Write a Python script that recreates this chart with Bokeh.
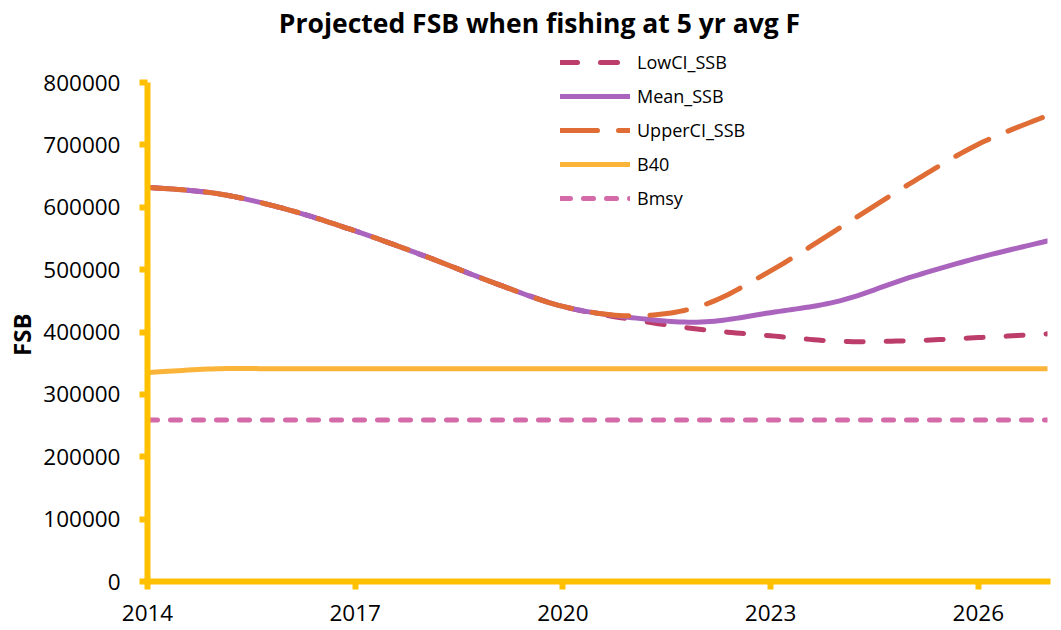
from bokeh.plotting import figure
from bokeh.models import (Range1d, FixedTicker, Legend, LegendItem, Label)
from bokeh.embed import file_html
from bokeh.resources import INLINE

# ---------------- data ----------------
years = [2014, 2015, 2016, 2017, 2018, 2019, 2020,
         2021, 2022, 2023, 2024, 2025, 2026, 2027]
low_ci_ssb = [632000, 622000, 597000, 562000, 522000, 479000, 441000,
              420000, 404000, 394000, 385000, 386000, 391000, 397000]
mean_ssb = [632000, 622000, 597000, 562000, 522000, 479000, 441000,
            423000, 416000, 431000, 450000, 487000, 519000, 546000]
upper_ci_ssb = [632000, 622000, 597000, 562000, 522000, 479000, 441000,
                426000, 442000, 498000, 567000, 637000, 701000, 747000]
b40 = [335000, 341000, 341000, 341000, 341000, 341000, 341000,
       341000, 341000, 341000, 341000, 341000, 341000, 341000]
bmsy = [259000, 259000, 259000, 259000, 259000, 259000, 259000,
        259000, 259000, 259000, 259000, 259000, 259000, 259000]

x_ticks = [2014, 2017, 2020, 2023, 2026]
x_tick_labels = ["2014", "2017", "2020", "2023", "2026"]
y_ticks = [0, 100000, 200000, 300000, 400000, 500000, 600000, 700000, 800000]
y_tick_labels = ["0", "100000", "200000", "300000", "400000",
                 "500000", "600000", "700000", "800000"]

title_text = "Projected FSB when fishing at 5 yr avg F"
y_label = "FSB"

FONT = "Open Sans"
AXIS_COLOR = "#FFC000"

# layout (pixels)
W, H = 1061, 630
BORDER_L, BORDER_R, BORDER_B = 147, 14, 49
AXIS_TOP_PX = 82          # where the y axis (800000) ends, from canvas top
frame_h = H - BORDER_B
y_top = y_ticks[-1] * frame_h / (frame_h - AXIS_TOP_PX)


def smooth(xs, ys, n=16):
    """Smoothed (Catmull-Rom / Bezier) rendering path through the data points."""
    pts = list(zip(xs, ys))
    ox, oy = [], []
    m = len(pts)
    for i in range(m - 1):
        p0 = pts[i - 1] if i > 0 else pts[i]
        p1 = pts[i]
        p2 = pts[i + 1]
        p3 = pts[i + 2] if i + 2 < m else pts[i + 1]
        c1 = (p1[0] + (p2[0] - p0[0]) / 6.0, p1[1] + (p2[1] - p0[1]) / 6.0)
        c2 = (p2[0] - (p3[0] - p1[0]) / 6.0, p2[1] - (p3[1] - p1[1]) / 6.0)
        for k in range(n):
            t = k / n
            a = (1 - t) ** 3
            b = 3 * (1 - t) ** 2 * t
            c = 3 * (1 - t) * t ** 2
            d = t ** 3
            ox.append(a * p1[0] + b * c1[0] + c * c2[0] + d * p2[0])
            oy.append(a * p1[1] + b * c1[1] + c * c2[1] + d * p2[1])
    ox.append(pts[-1][0])
    oy.append(pts[-1][1])
    return ox, oy


p = figure(width=W, height=H, output_backend="svg", toolbar_location=None,
           x_range=Range1d(years[0], years[-1]), y_range=Range1d(0, y_top),
           min_border_left=BORDER_L, min_border_right=BORDER_R, min_border_top=0,
           min_border_bottom=BORDER_B)
p.outline_line_color = None
p.xgrid.visible = False
p.ygrid.visible = False
p.background_fill_color = "white"
p.border_fill_color = "white"

series = [
    ("LowCI_SSB", low_ci_ssb, "#BD3D6A", "17 23"),
    ("Mean_SSB", mean_ssb, "#AA64BE", "solid"),
    ("UpperCI_SSB", upper_ci_ssb, "#E06D36", "37 21"),
    ("B40", b40, "#FBB43A", "solid"),
    ("Bmsy", bmsy, "#D46AA8", "10 13"),
]

items = []
for name, vals, color, dash in series:
    sx, sy = smooth(years, vals)
    r = p.line(sx, sy, line_color=color, line_width=5, line_dash=dash,
               line_cap="round", line_join="round")
    items.append(LegendItem(label=name, renderers=[r]))

legend = Legend(items=items, location=(413, frame_h - 210), orientation="vertical",
                padding=0, margin=0, spacing=10, label_height=24,
                glyph_height=24, glyph_width=70, label_standoff=7,
                border_line_alpha=0, background_fill_alpha=0,
                label_text_font=FONT, label_text_font_size="18px",
                label_text_color="#000000")
p.add_layout(legend, "center")

# axes
for ax in (p.xaxis[0], p.yaxis[0]):
    ax.axis_line_color = AXIS_COLOR
    ax.axis_line_width = 6
    ax.major_tick_line_color = AXIS_COLOR
    ax.major_tick_line_width = 6
    ax.major_tick_out = 8
    ax.major_tick_in = 0
    ax.minor_tick_line_color = None

p.xaxis[0].axis_line_cap = "square"
p.xaxis[0].ticker = FixedTicker(ticks=x_ticks)
p.xaxis[0].major_label_overrides = {t: l for t, l in zip(x_ticks, x_tick_labels)}
p.xaxis[0].major_label_text_font = FONT
p.xaxis[0].major_label_text_font_size = "22.5px"
p.xaxis[0].major_label_text_color = "#000000"
p.xaxis[0].major_label_standoff = 15

p.yaxis[0].bounds = (y_ticks[0], y_ticks[-1])
p.yaxis[0].ticker = FixedTicker(ticks=y_ticks)
p.yaxis[0].major_label_overrides = {t: l for t, l in zip(y_ticks, y_tick_labels)}
p.yaxis[0].major_label_text_font = FONT
p.yaxis[0].major_label_text_font_size = "22.5px"
p.yaxis[0].major_label_text_color = "#000000"
p.yaxis[0].major_label_standoff = 19
# trailing no-break spaces centre the rotated label on the 0-800000 axis span
p.yaxis[0].axis_label = y_label + "\u00a0" * 14
p.yaxis[0].axis_label_text_font = FONT
p.yaxis[0].axis_label_text_font_size = "24px"
p.yaxis[0].axis_label_text_font_style = "bold"
p.yaxis[0].axis_label_text_color = "#000000"
p.yaxis[0].axis_label_standoff = 2

title = Label(x=392, y=frame_h - 22, x_units="screen", y_units="screen",
              text=title_text, text_align="center", text_baseline="alphabetic",
              text_font=FONT, text_font_size="26.5px",
              text_font_style="bold", text_color="#000000")
p.add_layout(title)

open("out.html", "w").write(file_html(p, INLINE))
